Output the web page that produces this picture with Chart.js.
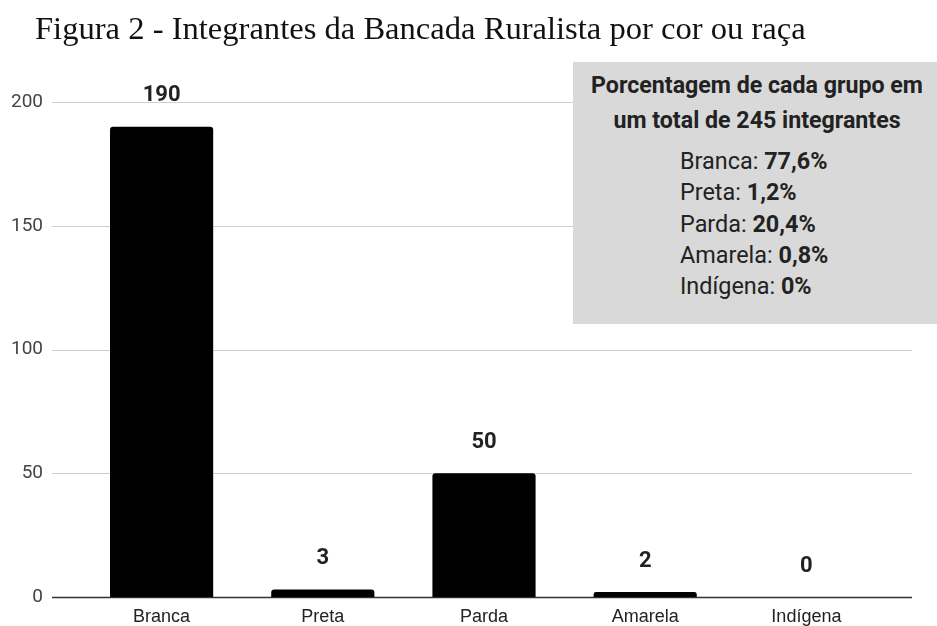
<!DOCTYPE html>
<html>
<head>
<meta charset="utf-8">
<script src="https://cdn.jsdelivr.net/npm/chart.js@4/dist/chart.umd.min.js"></script>
<style>
  body { margin: 0; background: #fff; }
  #wrap { position: relative; width: 937px; height: 626px; overflow: hidden; }
  #chart { position: absolute; left: 0; top: 0; }
  #title {
    position: absolute; left: 35px; top: 10px;
    font-family: "Liberation Serif", "Times New Roman", serif;
    font-size: 32.6px; color: #111; white-space: nowrap;
  }
  #box {
    position: absolute; left: 573px; top: 62px; width: 364px; height: 262px;
    background: #d9d9d9; font-family: Roboto, sans-serif; color: #222;
  }
  #box .head { text-align: center; font-weight: bold; font-size: 23.2px; line-height: 35px; margin-top: 6px; padding-left: 4px; }
  #box ul { list-style: none; margin: 8px 0 0 107px; padding: 0; font-size: 23.4px; line-height: 31.25px; }
</style>
</head>
<body>
<div id="wrap">
  <canvas id="chart" width="937" height="626"></canvas>
  <div id="title">Figura 2 - Integrantes da Bancada Ruralista por cor ou raça</div>
  <div id="box">
    <div class="head">Porcentagem de cada grupo em<br>um total de 245 integrantes</div>
    <ul id="pctList"></ul>
  </div>
</div>
<script>
// categories + counts
const categories = ["Branca", "Preta", "Parda", "Amarela", "Indígena"];
const members    = [190, 3, 50, 2, 0];
const pctLabels  = ["77,6%", "1,2%", "20,4%", "0,8%", "0%"];
const yTicks     = [0, 50, 100, 150, 200];

const $ = (id) => document.getElementById(id);

// ---------------- percentage box ----------------
categories.forEach((c, i) => {
  const li = document.createElement("li");
  li.innerHTML = `${c}: <b>${pctLabels[i]}</b>`;
  $("pctList").appendChild(li);
});

// ---------------- plugins ----------------
// gridlines wider than the plot area (Google Sheets style)
const wideGrid = {
  id: "wideGrid",
  beforeDatasetsDraw(chart){
    const { ctx, chartArea } = chart;
    const y = chart.scales.y;
    const x0 = chartArea.left - 29, x1 = chartArea.right + 25;
    ctx.save();
    yTicks.forEach(v => {
      const py = Math.round(y.getPixelForValue(v)) + 0.5;
      ctx.beginPath();
      ctx.strokeStyle = v === 0 ? "#333" : "#cfcfcf";
      ctx.lineWidth = v === 0 ? 1.5 : 1;
      ctx.moveTo(x0, py);
      ctx.lineTo(x1, py);
      ctx.stroke();
    });
    ctx.restore();
  }
};

const valueLabels = {
  id: "valueLabels",
  afterDatasetsDraw(chart){
    const { ctx } = chart;
    const meta = chart.getDatasetMeta(0);
    ctx.save();
    ctx.font = "bold 22px Roboto, sans-serif";
    ctx.fillStyle = "#222";
    ctx.textAlign = "center";
    ctx.textBaseline = "middle";
    meta.data.forEach((bar, i) => {
      ctx.fillText(String(members[i]), bar.x, bar.y - 31);
    });
    ctx.restore();
  }
};

// ---------------- chart ----------------
new Chart($("chart").getContext("2d"), {
  type: "bar",
  data: {
    labels: categories,
    datasets: [{
      data: members,
      backgroundColor: "#000",
      borderRadius: 3,
      barPercentage: 0.64,
      categoryPercentage: 1
    }]
  },
  options: {
    responsive: false,
    animation: false,
    layout: { padding: { top: 102, right: 50, bottom: 0, left: 0 } },
    plugins: { legend: { display: false }, tooltip: { enabled: false } },
    scales: {
      x: {
        afterFit(s){ s.height = 29; },
        grid: { display: false, drawTicks: false },
        border: { display: false },
        ticks: { color: "#222", font: { family: "'Liberation Sans', Arial", size: 18 }, padding: 9 }
      },
      y: {
        min: 0, max: 200,
        // big tick padding would otherwise reserve space under the plot
        afterFit(s){ s.width = 81; s.paddingTop = 0; s.paddingBottom = 0; },
        afterBuildTicks(s){ s.ticks = yTicks.map(v => ({ value: v })); },
        grid: { display: false, drawTicks: false },
        border: { display: false },
        ticks: { color: "#444", font: { family: "Roboto", size: 19 }, padding: 38 }
      }
    }
  },
  plugins: [wideGrid, valueLabels]
});
</script>
</body>
</html>
